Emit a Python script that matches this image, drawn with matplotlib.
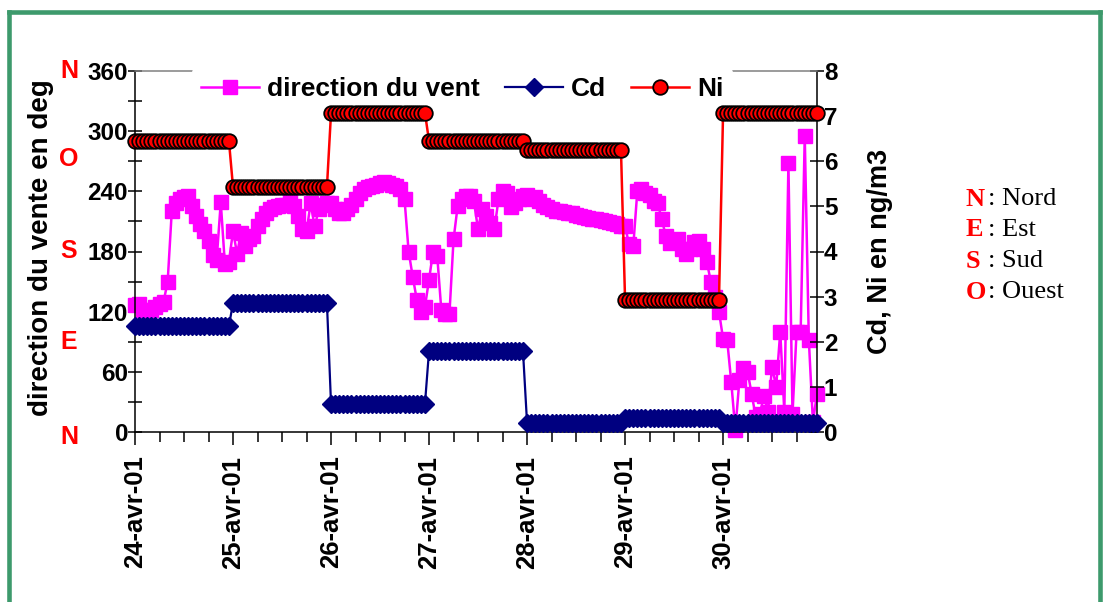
import numpy as np
import pandas as pd
import matplotlib
matplotlib.use('Agg')
import matplotlib.pyplot as plt
import matplotlib.transforms as mtransforms
from matplotlib.lines import Line2D

# Données
jours = ['24-avr-01', '25-avr-01', '26-avr-01', '27-avr-01',
         '28-avr-01', '29-avr-01', '30-avr-01']
cd_jour = [2.35, 2.86, 0.62, 1.80, 0.20, 0.30, 0.20]
ni_jour = [6.45, 5.43, 7.07, 6.45, 6.25, 2.93, 7.07]

# direction du vent, valeurs horaires (deg)
vent = [
    127, 128, 122, 120, 122, 125, 128, 130, 150, 220, 228, 232,
    234, 235, 225, 215, 207, 200, 190, 177, 172, 229, 168, 170,
    200, 178, 198, 185, 192, 195, 205, 212, 218, 222, 224, 225,
    226, 226, 232, 225, 215, 202, 200, 228, 205, 222, 226, 228,
    228, 222, 218, 218, 222, 226, 232, 238, 242, 244, 245, 246,
    248, 249, 248, 246, 245, 242, 232, 180, 155, 132, 120, 125,
    152, 180, 176, 122, 118, 118, 192, 225, 232, 235, 235, 230,
    202, 222, 215, 208, 202, 232, 240, 238, 224, 228, 232, 235,
    236, 232, 234, 230, 226, 224, 222, 220, 220, 219, 218, 218,
    216, 215, 214, 213, 212, 212, 211, 210, 209, 208, 207, 205,
    205, 187, 185, 240, 242, 238, 236, 230, 228, 212, 195, 188,
    190, 192, 182, 178, 182, 189, 190, 182, 170, 150, 135, 120,
    93, 92, 50, 2, 52, 64, 60, 38, 15, 18, 36, 20,
    65, 45, 100, 20, 268, 18, 100, 100, 295, 92, 10, 38,
]

heures = pd.date_range('2001-04-24', periods=len(vent), freq='h')
cd = np.repeat(cd_jour, 24)
ni = np.repeat(ni_jour, 24)

plt.rcParams['font.family'] = ['Liberation Sans', 'DejaVu Sans']
plt.rcParams['font.weight'] = 'bold'

W, H = 1112, 602
fig = plt.figure(figsize=(W / 100, H / 100), dpi=100)
ax1 = fig.add_axes([135 / W, 170 / H, 682 / W, 361 / H])
ax2 = ax1.twinx()

# Courbes
l_vent, = ax1.plot(heures, vent, color='#ff00ff', lw=1.8, marker='s', ms=10.5,
                   mec='#ff00ff', mfc='#ff00ff', label='direction du vent',
                   clip_on=False)
l_cd, = ax2.plot(heures, cd, color='#000080', lw=1.6, marker='D', ms=9,
                 mec='#000080', mfc='#000080', label='Cd', clip_on=False,
                 zorder=11)
l_ni, = ax2.plot(heures, ni, color='#ff0000', lw=1.8, marker='o', ms=10.5,
                 mec='black', mew=1.3, mfc='#ff0000', label='Ni', clip_on=False,
                 zorder=12)

# Axes
ax1.set_xlim(heures[0], heures[-1])
ax1.set_ylim(0, 360)
ax2.set_ylim(0, 8)
ax1.set_yticks(np.arange(0, 361, 60))
ax1.set_yticks(np.arange(30, 361, 60), minor=True)
ax2.set_yticks(np.arange(0, 9, 1))

ax1.set_xticks(pd.to_datetime(pd.date_range('2001-04-24', periods=7, freq='D')))
ax1.set_xticklabels(jours, rotation=90, fontsize=18.5)
ax1.set_xticks(pd.date_range(heures[0], heures[-1], freq='6h'), minor=True)

ax1.tick_params(axis='y', which='both', direction='inout', length=10, width=1.1,
                labelsize=17.5, pad=0)
ax2.tick_params(axis='y', which='both', direction='inout', length=10, width=1.1,
                labelsize=17.5, pad=0)
ax1.tick_params(axis='x', which='major', direction='out', length=9, width=1.1, pad=8)
ax1.tick_params(axis='x', which='minor', direction='out', length=7, width=1.1)

for s in ['left', 'bottom']:
    ax1.spines[s].set_linewidth(1.1)
ax1.spines['right'].set_visible(False)
ax1.spines['top'].set_visible(False)
ax2.spines['left'].set_visible(False)
ax2.spines['bottom'].set_visible(False)
ax2.spines['right'].set_linewidth(1.1)
ax2.spines['top'].set_color('#808080')
ax2.spines['top'].set_linewidth(1.1)

# Titres des axes
fig.text(41 / W, 1 - 248 / H, 'direction du vente en deg', rotation=90,
         ha='center', va='center', fontsize=20)
fig.text(880 / W, 1 - 251 / H, 'Cd, Ni en ng/m3', rotation=90,
         ha='center', va='center', fontsize=19.5)

# Points cardinaux sur l'axe gauche
trans = mtransforms.blended_transform_factory(fig.transFigure, ax1.transData)
for lettre, y in [('N', 360), ('O', 272), ('S', 180), ('E', 90), ('N', -5)]:
    ax1.text(69 / W, y, lettre, transform=trans, color='red', fontsize=18,
             ha='center', va='center', clip_on=False)

# Légende
leg = ax2.legend(handles=[l_vent, l_cd, l_ni], loc='upper center',
                 bbox_to_anchor=(0.48, 1.008), ncol=3, fontsize=19,
                 frameon=True, facecolor='white', edgecolor='none', framealpha=1,
                 handlelength=2.2, handletextpad=0.3, columnspacing=0.95,
                 borderpad=0.35, borderaxespad=0)
leg.set_zorder(10)

# Clé des directions
cle = [('N', ': Nord'), ('E', ': Est'), ('S', ': Sud'), ('O', ': Ouest')]
for i, (lettre, nom) in enumerate(cle):
    y = 1 - (199 + i * 31) / H
    fig.text(966 / W, y, lettre, color='red', fontsize=19, weight='bold',
             family='Liberation Serif', ha='left', va='center')
    fig.text(988 / W, y, nom, color='black', fontsize=19, weight='normal',
             family='Liberation Serif', ha='left', va='center')

# Cadre vert
vert = '#3d9a6c'
fig.add_artist(Line2D([9 / W, 9 / W], [0, 1 - 12 / H], color=vert, lw=3.3))
fig.add_artist(Line2D([9 / W, 1100 / W], [1 - 12 / H, 1 - 12 / H], color=vert, lw=3.3))
fig.add_artist(Line2D([1100 / W, 1100 / W], [0, 1 - 12 / H], color=vert, lw=3.3))

fig.savefig('out.png', dpi=100)
